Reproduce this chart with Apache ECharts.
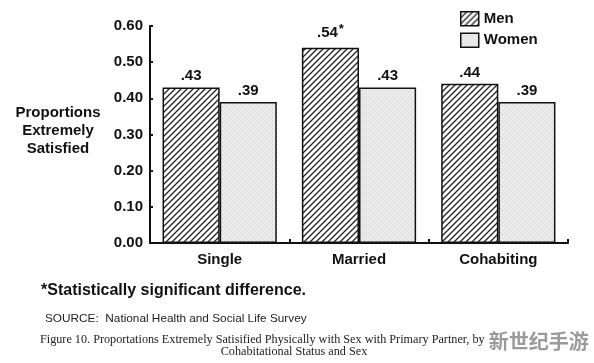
<!DOCTYPE html>
<html><head><meta charset="utf-8">
<script src="https://cdn.jsdelivr.net/npm/echarts@6/dist/echarts.min.js"></script>
<style>html,body{margin:0;padding:0;background:#fff}#c{width:594px;height:363px}</style>
</head><body><div id="c"></div>
<script>
const categories = ['Single', 'Married', 'Cohabiting'];
const menValues = [0.43, 0.54, 0.44];
const womenValues = [0.39, 0.43, 0.39];
const significant = [false, true, false];
const yTicks = [0, 0.1, 0.2, 0.3, 0.4, 0.5, 0.6];

function hatch() {
  const c = document.createElement('canvas'); c.width = 6; c.height = 6;
  const g = c.getContext('2d');
  g.fillStyle = '#fff'; g.fillRect(0, 0, 6, 6);
  g.strokeStyle = '#222'; g.lineWidth = 1.3;
  g.beginPath();
  g.moveTo(-1, 7); g.lineTo(7, -1);
  g.moveTo(-4, 4); g.lineTo(4, -4);
  g.moveTo(2, 10); g.lineTo(10, 2);
  g.stroke();
  return c;
}
function stipple() {
  const c = document.createElement('canvas'); c.width = 4; c.height = 4;
  const g = c.getContext('2d');
  g.fillStyle = '#ebebeb'; g.fillRect(0, 0, 4, 4);
  g.fillStyle = '#cdcdcd';
  g.fillRect(0, 0, 1, 1); g.fillRect(2, 2, 1, 1);
  return c;
}
const menFill = { image: hatch(), repeat: 'repeat' };
const womenFill = { image: stipple(), repeat: 'repeat' };
const F = '"Liberation Sans", Arial, sans-serif';
const SERIF = '"Liberation Serif", "Times New Roman", serif';

const chart = echarts.init(document.getElementById('c'));
function fmt(v) { return String(v.toFixed(2)).replace(/^0/, ''); }
chart.setOption({
  animation: false,
  grid: { left: 150, right: 26, top: 26, bottom: 120 },
  legend: {
    top: 6, left: 455, orient: 'vertical', itemWidth: 18, itemHeight: 14, itemGap: 6,
    icon: 'rect',
    textStyle: { fontFamily: F, fontWeight: 'bold', fontSize: 15, color: '#111' },
    data: [
      { name: 'Men', itemStyle: { color: menFill, borderColor: '#111', borderWidth: 1.5 } },
      { name: 'Women', itemStyle: { color: womenFill, borderColor: '#111', borderWidth: 1.5 } }
    ]
  },
  xAxis: {
    type: 'category', data: categories,
    axisLine: { lineStyle: { color: '#111', width: 2 } },
    axisTick: { show: true, inside: true, length: 4, lineStyle: { color: '#111', width: 2 } },
    axisLabel: { fontFamily: F, fontWeight: 'bold', fontSize: 15, color: '#111', margin: 9 }
  },
  yAxis: {
    type: 'value', min: 0, max: 0.6, interval: 0.1,
    splitLine: { show: false },
    axisLine: { show: true, lineStyle: { color: '#111', width: 2 } },
    axisTick: { show: true, inside: true, length: 3, lineStyle: { color: '#111', width: 2 } },
    axisLabel: { fontFamily: F, fontWeight: 'bold', fontSize: 15, color: '#111', margin: 7,
      formatter: v => v.toFixed(2) }
  },
  series: [
    { name: 'Men', type: 'bar', barGap: '0%', barCategoryGap: '18%',
      itemStyle: { color: menFill, borderColor: '#111', borderWidth: 1.5 },
      label: { show: true, position: 'top', distance: 4,
        formatter: p => fmt(p.value) + (significant[p.dataIndex] ? '{s|*}' : ''),
        fontFamily: F, fontWeight: 'bold', fontSize: 15, color: '#111',
        rich: { s: { fontFamily: F, fontWeight: 'bold', fontSize: 13, color: '#111', verticalAlign: 'top', padding: [0, 0, 8, 1] } } },
      data: menValues },
    { name: 'Women', type: 'bar',
      itemStyle: { color: womenFill, borderColor: '#111', borderWidth: 1.5 },
      label: { show: true, position: 'top', distance: 4, formatter: p => fmt(p.value),
        fontFamily: F, fontWeight: 'bold', fontSize: 15, color: '#111' },
      data: womenValues }
  ],
  graphic: [
    { type: 'text', x: 58, y: 104, style: { text: 'Proportions\nExtremely\nSatisfied', align: 'center',
      font: 'bold 15px ' + F, fill: '#111', lineHeight: 18 } },
    { type: 'text', left: 41, top: 283, style: { text: '*Statistically significant difference.',
      font: 'bold 16px ' + F, fill: '#111' } },
    { type: 'text', left: 45, top: 313, style: { text: 'SOURCE:  National Health and Social Life Survey',
      font: '11.8px ' + F, fill: '#222' } },
    { type: 'text', left: 40, top: 334, style: { text: 'Figure 10. Proportations Extremely Satisified Physically with Sex with Primary Partner, by',
      font: '12.2px ' + SERIF, fill: '#222' } },
    { type: 'text', x: 294, y: 346, style: { text: 'Cohabitational Status and Sex', align: 'center',
      font: '12.2px ' + SERIF, fill: '#222' } },
    { type: 'text', left: 488, top: 331, style: { text: '新世纪手游',
      font: 'bold 20px "Noto Sans CJK SC", sans-serif', fill: '#9a9a9a', stroke: '#fff', lineWidth: 1.5 } }
  ]
});
</script></body></html>
